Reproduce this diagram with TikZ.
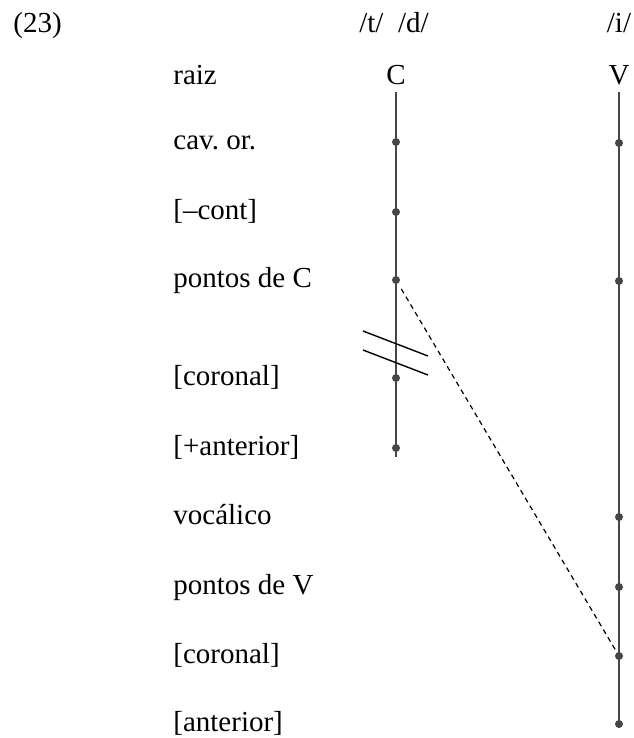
\documentclass[tikz,border=0pt]{standalone}
\usepackage{fontspec}
\setmainfont{Liberation Serif}
\usepackage{tikz}
\usetikzlibrary{positioning}
\definecolor{tierGray}{RGB}{70,70,70}
\newcommand{\glsize}{\fontsize{14.5pt}{17pt}\selectfont}
\frenchspacing

\begin{document}
\begin{tikzpicture}[x=0.5pt,y=-0.5pt,
lbl/.style={anchor=base west,inner sep=0pt,font=\glsize},
seg/.style={anchor=base,inner sep=0pt,font=\glsize},
dot/.style={circle,fill=tierGray,inner sep=0pt,minimum size=4pt},
tier/.style={draw=tierGray,line width=0.75pt},
spread/.style={draw,dash pattern=on 2.5pt off 2pt,line width=0.6pt}
]
\useasboundingbox (0,0) rectangle (633,738);
\node[lbl] (num) at (13,33) {(23)};
\node[seg] (td) at (394,33) {/t/\hspace{0.5em}/d/};
\node[seg] (i) at (619,33) {/i/};
\node[seg] (C) at (396,85) {C};
\node[seg] (V) at (619,85) {V};
% tier labels
\foreach \n/\y/\t in {l0/85/raiz,l1/149/cav. or.,l2/219/{[–cont]},l3/287/pontos de C,
  l4/385/{[coronal]},l5/455/{[+anterior]},l6/524/vocálico,l7/594/pontos de V,
  l8/663/{[coronal]},l9/731/{[anterior]}}
\node[lbl] (\n) at (173,\y) {\t};
% nodes on C and V
\foreach \n/\y in {c1/142,c2/212,c3/280,c4/378,c5/448}
\node[dot] (\n) at (396,\y) {};
\foreach \n/\y in {v1/143,v2/281,v3/517,v4/587,v5/656,v6/724}
\node[dot] (\n) at (619,\y) {};
\coordinate (cend) at (396,457);
\coordinate (vend) at (619,728);
\draw[tier] (C.south) ++(0,6) -- (cend);
\draw[tier] (V.south) ++(0,6) -- (vend);
\draw[spread,shorten <=3pt] (c3) -- (v5);
% delinking
\draw[line width=0.7pt] (363,331) -- (428,356);
\draw[line width=0.7pt] (363,350) -- (428,375);
\end{tikzpicture}
\end{document}
